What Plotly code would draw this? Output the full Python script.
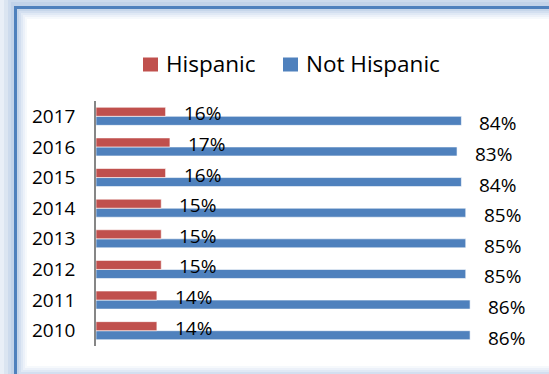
import plotly.graph_objects as go

# Share of population by ethnicity, per year (percent); listed bottom to top
years = [2010, 2011, 2012, 2013, 2014, 2015, 2016, 2017]
hispanic = [14, 14, 15, 15, 15, 16, 17, 16]
not_hispanic = [86, 86, 85, 85, 85, 84, 83, 84]
series_names = ["Hispanic", "Not Hispanic"]

RED = "#C0504D"
BLUE = "#4F81BD"
FONT = "Open Sans"

W, H = 549, 374
ML, MR, MT, MB = 96, 18, 101, 28
PW, PH = W - ML - MR, H - MT - MB


def px_x(p):
    return (p - ML) / PW


def px_y(p):
    return (H - MB - p) / PH


def rect(x0, y0, x1, y1, color, layer="below"):
    return dict(type="rect", xref="paper", yref="paper", layer=layer,
                x0=px_x(x0), x1=px_x(x1), y0=px_y(y1), y1=px_y(y0),
                line=dict(width=0), fillcolor=color)


fig = go.Figure()
# the later trace sits higher inside each group, so Not Hispanic goes first
fig.add_trace(go.Bar(name=series_names[1], y=years, x=not_hispanic, orientation="h",
                     marker=dict(color=BLUE, line=dict(color="white", width=0.6))))
fig.add_trace(go.Bar(name=series_names[0], y=years, x=hispanic, orientation="h",
                     marker=dict(color=RED, line=dict(color="white", width=0.6))))

# value labels to the right of each bar
annotations = []
for vals, shift in ((hispanic, 3), (not_hispanic, -7)):
    for yr, v in zip(years, vals):
        annotations.append(dict(x=v, y=yr, xref="x", yref="y", text=f"{v}%",
                                showarrow=False, xanchor="left", xshift=16,
                                yshift=shift, font=dict(family=FONT, size=19, color="#000")))

# framed panel with soft blue glow
shapes = [
    rect(0, 0, W, H, "#e9eff7"),
    rect(4, 0, 580, 400, "#dbe5f1"),
    rect(8, 0, 580, 400, "#cddbed"),
    rect(11, 2, 580, 400, "#c2d3e9"),
    rect(14, 6, 580, 400, BLUE),
]
for d, c in ((0, "#c6d6ea"), (2, "#d3dff0"), (4, "#e0e9f5"), (6, "#ecf1f9"),
             (8, "#f6f9fc"), (10, "#ffffff")):
    shapes.append(rect(17 + d, 9 + d, 580, 376 - d, c))

# legend row above the bars: colour key square + series name
legend_keys = [(143, RED, series_names[0]), (283, BLUE, series_names[1])]
for kx, color, name in legend_keys:
    shapes.append(rect(kx, 57.5, kx + 15, 71.5, color, layer="above"))
    annotations.append(dict(x=px_x(kx + 21), y=px_y(64), xref="paper", yref="paper",
                            text=name, showarrow=False, xanchor="left", yanchor="middle",
                            font=dict(family=FONT, size=22.5, color="#000")))

fig.update_layout(
    width=W, height=H,
    margin=dict(l=ML, r=MR, t=MT, b=MB),
    paper_bgcolor="white",
    plot_bgcolor="rgba(0,0,0,0)",
    barmode="group",
    bargap=0.41,
    bargroupgap=0,
    font=dict(family=FONT, size=19, color="#000"),
    showlegend=False,
    xaxis=dict(range=[0, 100], visible=False, fixedrange=True),
    yaxis=dict(range=[years[0] - 0.5, years[-1] + 0.5],
               tickmode="array", tickvals=years, ticktext=[str(y) for y in years],
               showline=True, linecolor="#868686", linewidth=1.5,
               ticks="", showgrid=False, zeroline=False, ticklabelstandoff=15,
               tickfont=dict(family=FONT, size=19, color="#000"), fixedrange=True),
    shapes=shapes,
    annotations=annotations,
)

fig.write_html("out.html")
